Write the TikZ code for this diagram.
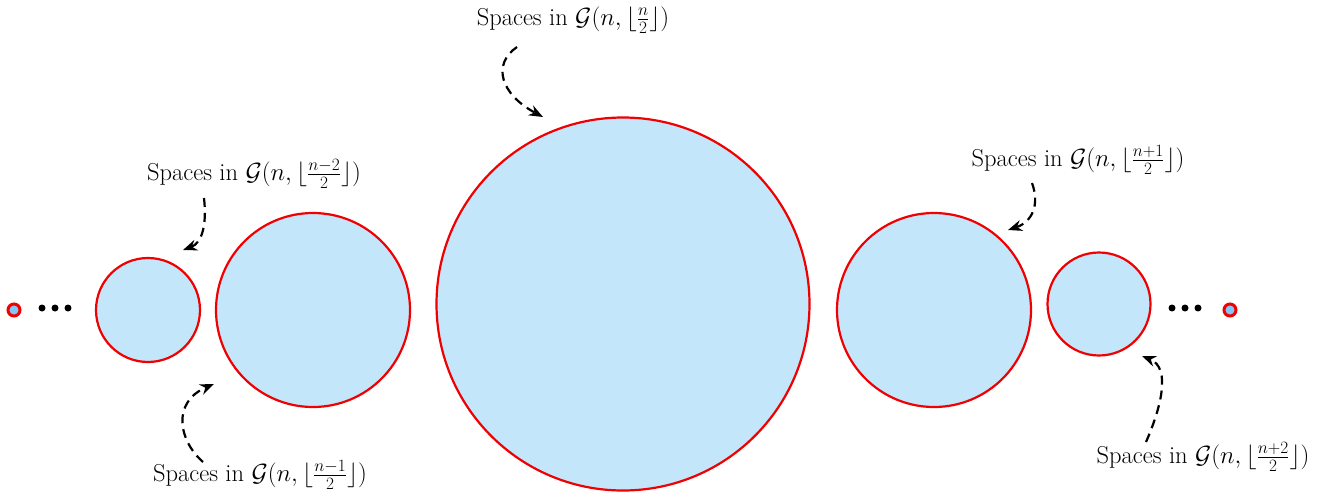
\documentclass[tikz,border=0pt]{standalone}
\usetikzlibrary{arrows.meta}
\definecolor{fillblue}{HTML}{C3E6FB}
\definecolor{ptblue}{HTML}{80C8F8}
\definecolor{circred}{HTML}{F00000}
\begin{document}
\begin{tikzpicture}[x=1pt,y=-1pt,
  space/.style={circle,draw=circred,fill=fillblue,line width=2.2pt,inner sep=0pt},
  pt/.style={circle,draw=circred,fill=ptblue,line width=3pt,inner sep=0pt,minimum size=12pt},
  dot/.style={circle,fill=black,inner sep=0pt,minimum size=7pt},
  lbl/.style={inner sep=0pt,font=\fontsize{24.5}{29}\selectfont},
  arr/.style={dashed,dash pattern=on 9pt off 6pt,line width=2.2pt,-{Stealth[length=14pt,width=11pt]}}]
\useasboundingbox (0,0) rectangle (1328,493);
% points and dots
\node[pt] (p1) at (14,310) {};
\node[pt] (p2) at (1230,310) {};
\node[dot] (d1) at (42,308) {};
\node[dot] (d2) at (55,308) {};
\node[dot] (d3) at (68,308) {};
\node[dot] (d4) at (1172,308) {};
\node[dot] (d5) at (1185,308) {};
\node[dot] (d6) at (1198,308) {};
% circles
\node[space,minimum size=104pt] (c1) at (148,310) {};
\node[space,minimum size=194pt] (c2) at (313,310) {};
\node[space,minimum size=373pt] (c3) at (623,304) {};
\node[space,minimum size=194pt] (c4) at (934,310) {};
\node[space,minimum size=103pt] (c5) at (1099,304) {};
% labels
\node[lbl] (l3) at (573,20) {Spaces in $\mathcal{G}(n,\lfloor\frac{n}{2}\rfloor)$};
\node[lbl] (l1) at (254,174) {Spaces in $\mathcal{G}(n,\lfloor\frac{n-2}{2}\rfloor)$};
\node[lbl] (l2) at (260,475) {Spaces in $\mathcal{G}(n,\lfloor\frac{n-1}{2}\rfloor)$};
\node[lbl] (l4) at (1078,160) {Spaces in $\mathcal{G}(n,\lfloor\frac{n+1}{2}\rfloor)$};
\node[lbl] (l5) at (1203,457) {Spaces in $\mathcal{G}(n,\lfloor\frac{n+2}{2}\rfloor)$};
% arrow end points
\coordinate (s3) at (517,47);
\coordinate (e3) at (543,117);
\coordinate (s1) at (204,198);
\coordinate (e1) at (183,250);
\coordinate (s2) at (203,462);
\coordinate (e2) at (214,384);
\coordinate (s4) at (1032,183);
\coordinate (e4) at (1008,230);
\coordinate (s5) at (1146,442);
\coordinate (e5) at (1142,356);
\draw[arr] (s3) .. controls (492,64) and (500,94) .. (e3);
\draw[arr] (s1) .. controls (207,225) and (202,243) .. (e1);
\draw[arr] (s2) .. controls (178,440) and (172,402) .. (e2);
\draw[arr] (s4) .. controls (1040,205) and (1032,222) .. (e4);
\draw[arr] (s5) .. controls (1160,410) and (1172,368) .. (e5);
\end{tikzpicture}
\end{document}
